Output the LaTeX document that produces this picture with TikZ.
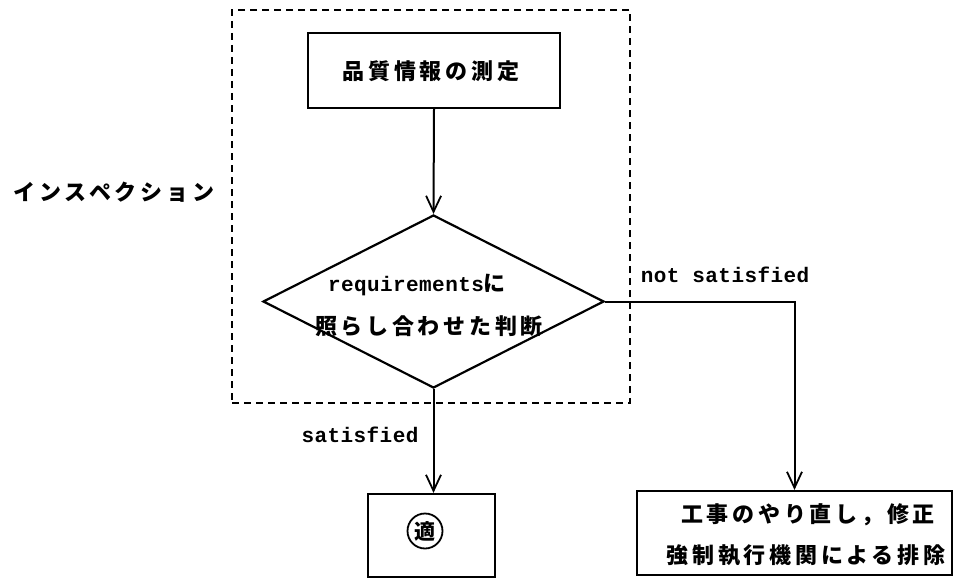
\documentclass[tikz,border=0pt]{standalone}
\usepackage{fontspec}
\usetikzlibrary{arrows.meta,shapes.geometric}
\newfontfamily\jp{Noto Sans CJK JP}[LetterSpace=17]
\newfontfamily\lmono{Liberation Mono}[LetterSpace=2]
\tikzset{
  boxnode/.style={draw, line width=2.2pt, inner sep=0pt},
  arr/.style={line width=2pt, -{Straight Barb[length=16pt,width=15pt,line width=1.8pt]}},
  jptext/.style={inner sep=0pt, font=\jp\bfseries\fontsize{22}{26}\selectfont},
  lmtext/.style={inner sep=0pt, font=\lmono\bfseries\fontsize{21}{24}\selectfont},
  area/.style={draw, line width=2pt, dash pattern=on 7pt off 5pt, inner sep=0pt}
}
\begin{document}
\begin{tikzpicture}[x=1pt,y=-1pt]
\useasboundingbox (0,0) rectangle (953,578);
% dashed inspection area
\node[area, minimum width=398pt, minimum height=393pt] (insparea) at (431,206.5) {};
% top box
\node[boxnode, minimum width=252pt, minimum height=75pt] (meas) at (434,70.5) {};
\node[jptext] (meast) at (431,71) {品質情報の測定};
% decision diamond
\node[diamond, draw, line width=2.2pt, inner sep=0pt, minimum width=341pt, minimum height=173pt] (dec) at (433.5,301.5) {};
\node[jptext] (d1) at (417,285) {{\lmono\bfseries\fontsize{21}{24}\selectfont requirements}に};
\node[jptext] (d2) at (429,326) {照らし合わせた判断};
% side label
\node[jptext] (insp) at (114,192) {インスペクション};
% outcome labels
\node[lmtext] (sat) at (360,435) {satisfied};
\node[lmtext] (nsat) at (725,275) {not satisfied};
% satisfied result box
\node[boxnode, minimum width=127pt, minimum height=83pt] (ok) at (431.5,535.5) {};
\node[circle, draw, line width=1.8pt, minimum size=35pt, inner sep=0pt, font=\jp\bfseries\fontsize{21}{24}\selectfont] (okc) at (425,531) {適};
% not satisfied result box
\node[boxnode, minimum width=315pt, minimum height=84pt] (redo) at (794.5,533) {};
\node[jptext] (r1) at (808,515) {工事のやり直し，修正};
\node[jptext] (r2) at (806,555) {強制執行機関による排除};
% connectors
\draw[arr] (meas.south) -- (dec.north);
\draw[arr] (dec.south) -- (dec.south |- ok.north);
\draw[arr] (dec.east) -| (redo.north);
\end{tikzpicture}
\end{document}
